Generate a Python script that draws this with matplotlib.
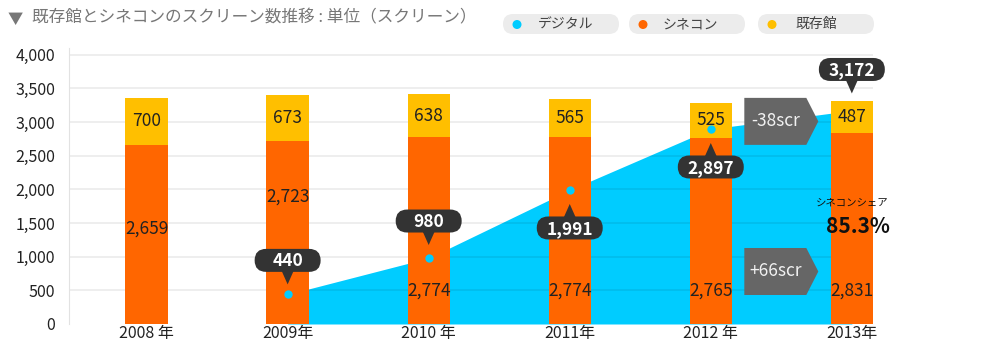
import matplotlib.pyplot as plt
import numpy as np
from matplotlib.patches import Circle, FancyBboxPatch, Polygon
from matplotlib.transforms import IdentityTransform

plt.rcParams["font.family"] = ["Noto Sans CJK JP", "DejaVu Sans"]

# スクリーン数（単位：スクリーン）
years = ["2008 年", "2009年", "2010 年", "2011年", "2012 年", "2013年"]
cinecon = [2659, 2723, 2774, 2774, 2765, 2831]
existing = [700, 673, 638, 565, 525, 487]
digital = [np.nan, 440, 980, 1991, 2897, 3172]

ORANGE = "#ff6600"
YELLOW = "#ffbf00"
BLUE = "#00ccff"
DARK = "#333333"
ARROW = "#666666"
TEXT = "#222222"

W, H = 1000, 350
ID = IdentityTransform()


def fig_xy(x, y_top):
    """pixel position measured from the top-left corner -> display coords"""
    return x, H - y_top


fig = plt.figure(figsize=(W / 100, H / 100), dpi=100)
ax = fig.add_axes([69 / W, 26 / H, 804 / W, 1 - 26 / H - 48 / H])

x = np.arange(len(years))
ax.set_xlim(-0.55, 5.15)
ax.set_ylim(0, 4100)

# digital screens as a filled area behind the bars
ax.fill_between(x[1:], 0, digital[1:], color=BLUE, lw=0, zorder=1)

# grid lines sit over the area but under the bars
yticks = np.arange(0, 4001, 500)
for yt in yticks[1:]:
    ax.axhline(yt, color="black", alpha=0.08, lw=1.2, zorder=1.5)

ax.bar(x, cinecon, width=0.3, color=ORANGE, zorder=2)
ax.bar(x, existing, width=0.3, bottom=cinecon, color=YELLOW, zorder=2)

ax.scatter(x[1:5], digital[1:5], s=36, color=BLUE, lw=0, zorder=4)

# bar value labels
orange_label_y = [1420, 1890, 490, 490, 490, 490]
for i in x:
    ax.text(x[i], cinecon[i] + existing[i] / 2, f"{existing[i]:,}",
            ha="center", va="center", fontsize=12.5, color=TEXT, zorder=3)
    ax.text(x[i], orange_label_y[i], f"{cinecon[i]:,}",
            ha="center", va="center", fontsize=12.5, color=TEXT, zorder=3)

# axes styling
for side in ["top", "right", "bottom"]:
    ax.spines[side].set_visible(False)
ax.spines["left"].set_color("#e2e2e2")
ax.set_yticks(yticks)
ax.set_yticklabels([f"{v:,}" for v in yticks], fontsize=11.5, color=TEXT)
ax.set_xticks(x)
ax.set_xticklabels(years, fontsize=11.5, color=TEXT)
ax.tick_params(axis="y", length=0, pad=10)
ax.tick_params(axis="x", length=0, pad=1)

# speech-bubble callouts for digital screens
bubble_dy = [0, 34, 37, -38, -38, 41]
for i in x[1:]:
    px, py = ax.transData.transform((x[i], digital[i]))
    cy = py + bubble_dy[i]
    ax.add_patch(FancyBboxPatch((px - 33, cy - 11.5), 66, 23,
                                boxstyle="round,pad=0,rounding_size=11.5",
                                fc=DARK, ec="none", transform=ID,
                                clip_on=False, zorder=5))
    s = 1 if bubble_dy[i] > 0 else -1
    base = cy - s * 10.5
    tip = cy - s * 24
    ax.add_patch(Polygon([(px - 6, base), (px + 6, base), (px, tip)],
                         closed=True, fc=DARK, ec="none", transform=ID,
                         clip_on=False, zorder=5))
    ax.text(px, cy - 1, f"{int(digital[i]):,}", transform=ID, ha="center",
            va="center", fontsize=12.5, fontweight="bold", color="white",
            zorder=6)

# change arrows between 2012 and 2013
mx = (ax.transData.transform((x[4], 0))[0] + ax.transData.transform((x[5], 0))[0]) / 2
arrows = [(3010, existing[5] - existing[4]), (780, cinecon[5] - cinecon[4])]
for yc, delta in arrows:
    cy = ax.transData.transform((0, yc))[1]
    pts = [(mx - 37, cy + 23.5), (mx + 25, cy + 23.5), (mx + 37, cy),
           (mx + 25, cy - 23.5), (mx - 37, cy - 23.5)]
    ax.add_patch(Polygon(pts, closed=True, fc=ARROW, ec="none",
                         transform=ID, clip_on=False, zorder=5))
    ax.text(mx - 6, cy, f"{delta:+d}scr", transform=ID, ha="center",
            va="center", fontsize=12.5, color="#f2f2f2", zorder=6)

# cinecon share in 2013
share = cinecon[5] / (cinecon[5] + existing[5]) * 100
ax.text(x[5], 1810, "シネコンシェア", ha="center", va="center",
        fontsize=7.5, color="#111111", zorder=6)
ax.text(x[5] + 0.04, 1450, f"{share:.1f}%", ha="center", va="center",
        fontsize=15, fontweight="bold", color="#111111", zorder=6)

# title
tx, ty = fig_xy(15, 19)
fig.text(tx / W, ty / H, "▼", ha="center", va="center", fontsize=11,
         color="#777777")
tx, ty = fig_xy(32, 18)
fig.text(tx / W, ty / H, "既存館とシネコンのスクリーン数推移 : 単位（スクリーン）",
         ha="left", va="center", fontsize=12, color="#777777")

# pill-shaped legend
legend = [("デジタル", BLUE, 503, 538), ("シネコン", ORANGE, 629, 663),
          ("既存館", YELLOW, 758, 795)]
for label, color, left, text_x in legend:
    lx, ly = fig_xy(left, 34)
    fig.patches.append(FancyBboxPatch((lx, ly), 116, 20,
                                      boxstyle="round,pad=0,rounding_size=10",
                                      fc="#ececec", ec="none", transform=ID))
    fig.patches.append(Circle(fig_xy(left + 14, 24.5), 4.5, fc=color,
                              ec="none", transform=ID))
    lx, ly = fig_xy(text_x, 24)
    fig.text(lx / W, ly / H, label, ha="left", va="center", fontsize=10,
             color="#444444")

fig.savefig("out.png", dpi=100)
